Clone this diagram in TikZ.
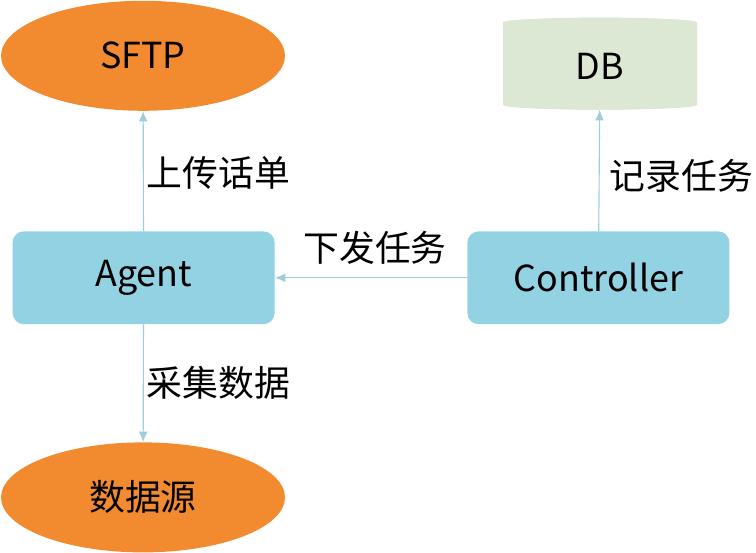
\documentclass[tikz,border=0pt]{standalone}
\usepackage{fontspec}
\setmainfont{Noto Sans CJK SC}
\usepackage{tikz}
\usetikzlibrary{arrows.meta,positioning,shapes.geometric}
\definecolor{FlowOrange}{HTML}{F28A30}
\definecolor{FlowCyan}{HTML}{92D2E2}
\definecolor{FlowSage}{HTML}{DCE8D3}
\definecolor{FlowSageTop}{HTML}{E9F1E4}
\definecolor{FlowLine}{HTML}{9FCEDA}

\begin{document}
\begin{tikzpicture}[font=\fontsize{25.5}{30}\selectfont, >={Latex[length=2.6mm,width=2.2mm]},
  endpoint/.style={ellipse, fill=FlowOrange, minimum width=7.1cm, minimum height=2.75cm, inner sep=0pt},
  module/.style={rounded corners=8pt, fill=FlowCyan, minimum width=6.55cm, minimum height=2.32cm, align=center, inner sep=3pt},
  store/.style={cylinder, shape border rotate=90, aspect=0.2, fill=FlowSage, cylinder uses custom fill, cylinder body fill=FlowSage, cylinder end fill=FlowSageTop, minimum width=4.85cm, minimum height=2.3cm, inner sep=0pt},
  tag/.style={inner sep=0pt, anchor=west},
  arr/.style={->, line width=0.8pt, FlowLine}]
\useasboundingbox (0,0) rectangle (18.9,13.825);

\node[endpoint] (sftp) at (3.575,12.43) {SFTP};
\node[store] (db) at (15.0,12.17) {DB};

\node[module] (agent) at (3.59,6.88) {Agent};
\node[module] (controller) at (14.96,6.88) {Controller};

\node[endpoint] (source) at (3.575,1.39) {数据源};

\draw[arr] (agent) -- (sftp);
\draw[arr] (controller) -- (db);
\draw[arr] (controller) -- (agent);
\draw[arr] (agent) -- (source);

\node[tag] (upload) at (3.66,9.5) {上传话单};
\node[tag] (record) at (15.23,9.43) {记录任务};
\node[tag, anchor=center] (dispatch) at (9.375,7.64) {下发任务};
\node[tag] (collect) at (3.66,4.26) {采集数据};
\end{tikzpicture}
\end{document}
